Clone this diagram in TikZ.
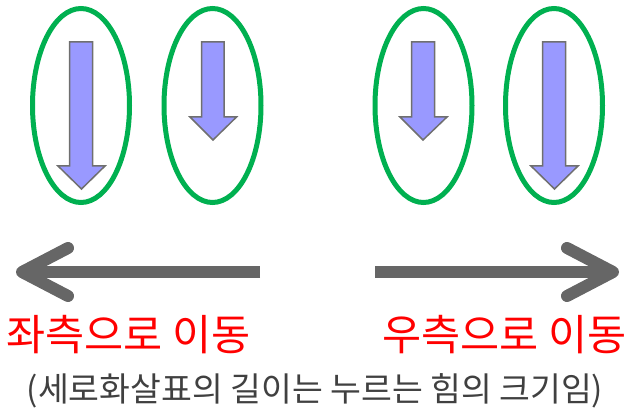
\documentclass[tikz,border=0pt]{standalone}
\usepackage{fontspec}
\setmainfont{Noto Sans CJK KR}
\usetikzlibrary{shapes.geometric}
\definecolor{ringgreen}{HTML}{00B050}
\definecolor{arrowblue}{HTML}{9999FF}
\definecolor{edgegray}{HTML}{6F6F6F}
\definecolor{bigarrow}{HTML}{666666}
\definecolor{notegray}{HTML}{404040}
\tikzset{
  ring/.style={draw=ringgreen, line width=5pt},
  forcearrow/.style={fill=arrowblue, draw=edgegray, line width=1.5pt, line join=miter},
  movearrow/.style={draw=bigarrow, line width=12pt, line cap=round, line join=round},
  movelabel/.style={text=red, font=\fontsize{42.5}{45}\selectfont, inner sep=0pt},
  notelabel/.style={text=notegray, font=\fontsize{33.5}{36}\selectfont, inner sep=0pt}
}
\begin{document}
\begin{tikzpicture}[x=1pt,y=-1pt]
\useasboundingbox (0,0) rectangle (630,411);
% ellipses
\draw[ring] (81,105.5) ellipse [x radius=48.5, y radius=97];
\draw[ring] (212.5,105.5) ellipse [x radius=48.5, y radius=97];
\draw[ring] (423.5,105.5) ellipse [x radius=48.5, y radius=97];
\draw[ring] (554,105.5) ellipse [x radius=48.5, y radius=97];
% blue force arrows
\draw[forcearrow] (69.5,42) -- (92.5,42) -- (92.5,166) -- (105,166) -- (81.5,189) -- (58,166) -- (69.5,166) -- cycle;
\draw[forcearrow] (201.5,42) -- (224,42) -- (224,117) -- (236.5,117) -- (213,140) -- (190,117) -- (201.5,117) -- cycle;
\draw[forcearrow] (411.5,42) -- (434.5,42) -- (434.5,117) -- (447,117) -- (423,140) -- (400,117) -- (411.5,117) -- cycle;
\draw[forcearrow] (542.5,42) -- (565.5,42) -- (565.5,166) -- (578,166) -- (554.5,189) -- (531,166) -- (542.5,166) -- cycle;
% movement arrows
\coordinate (ltip) at (22,272);
\coordinate (lend) at (260,272);
\coordinate (rtip) at (613,272);
\coordinate (rstart) at (375,272);
\draw[movearrow, line cap=butt] (lend) -- (ltip);
\draw[movearrow] (68,248) -- (ltip) -- (68,296);
\draw[movearrow, line cap=butt] (rstart) -- (rtip);
\draw[movearrow] (567,248) -- (rtip) -- (567,296);
% labels
\node[movelabel] (leftlbl) at (128.5,335) {좌측으로 이동};
\node[movelabel] (rightlbl) at (504.5,335) {우측으로 이동};
\node[notelabel] (note) at (315,391) {(세로화살표의 길이는 누르는 힘의 크기임)};
\end{tikzpicture}
\end{document}
